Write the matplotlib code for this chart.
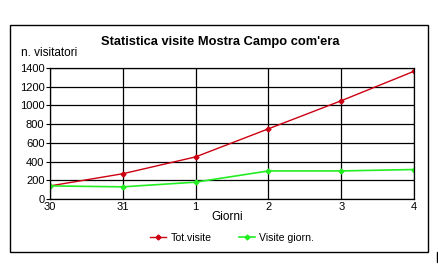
import matplotlib
matplotlib.use("Agg")
import matplotlib.pyplot as plt
from matplotlib.patches import Rectangle

plt.rcParams["font.family"] = ["Liberation Sans", "DejaVu Sans"]

giorni = ["30", "31", "1", "2", "3", "4"]
tot_visite = [140, 270, 450, 750, 1050, 1365]
visite_giorn = [140, 130, 180, 300, 300, 315]

W, H = 439, 276
fig = plt.figure(figsize=(W / 100, H / 100), dpi=100)
fig.patch.set_facecolor("white")

# outer frame of the chart
fig.patches.append(Rectangle((10 / W, 1 - 252 / H), 418 / W, 227 / H,
                             transform=fig.transFigure, fill=False,
                             edgecolor="black", linewidth=1.0))
fig.patches.append(Rectangle((437 / W, 1 - 262 / H), 2 / W, 10 / H,
                             transform=fig.transFigure, color="black"))

ax = fig.add_axes([50 / W, 1 - 199 / H, 364 / W, 131 / H])
x = range(len(giorni))
ax.plot(x, tot_visite, color="#cc0011", linewidth=1.0, marker="D",
        markersize=2.5, label="Tot.visite")
ax.plot(x, visite_giorn, color="#22ee22", linewidth=1.2, marker="D",
        markersize=2.5, label="Visite giorn.")

ax.set_xlim(0, len(giorni) - 1)
ax.set_ylim(0, 1400)
ax.set_xticks(list(x))
ax.set_xticklabels(giorni, fontsize=8)
ax.set_yticks(range(0, 1401, 200))
ax.tick_params(axis="y", labelsize=8, length=3, width=0.8, pad=1)
ax.tick_params(axis="x", length=0, pad=2)
ax.grid(True, color="black", linewidth=0.9)
for s in ax.spines.values():
    s.set_linewidth(0.9)

fig.text(220 / W, 1 - 42 / H, "Statistica visite Mostra Campo com'era",
         ha="center", va="center", fontsize=9.3, fontweight="bold")
fig.text(21 / W, 1 - 53 / H, "n. visitatori", ha="left", va="center",
         fontsize=8.5)
fig.text(227 / W, 1 - 217 / H, "Giorni", ha="center", va="center", fontsize=8.5)

ax.legend(loc="center", bbox_to_anchor=(232 / W, 1 - 238 / H),
          bbox_transform=fig.transFigure, ncol=2, frameon=False,
          fontsize=7.6, handlelength=1.5, columnspacing=2.6,
          handletextpad=0.4)

fig.savefig("out.png", dpi=100)
